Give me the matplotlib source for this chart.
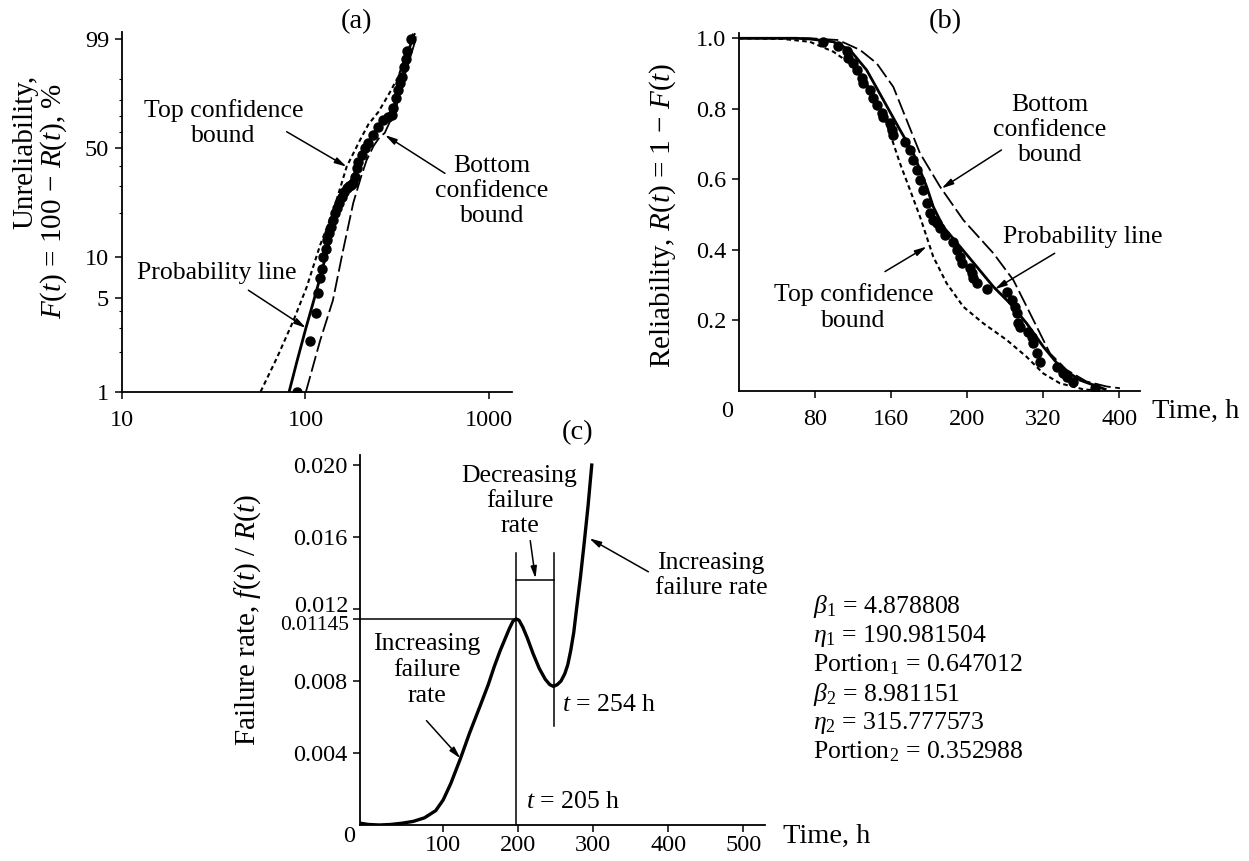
import numpy as np
import matplotlib
matplotlib.use('Agg')
import matplotlib.pyplot as plt

plt.rcParams['font.family'] = ['Liberation Serif', 'DejaVu Serif']
plt.rcParams['mathtext.fontset'] = 'custom'
plt.rcParams['mathtext.rm'] = 'Liberation Serif'
plt.rcParams['mathtext.it'] = 'Liberation Serif:italic'
plt.rcParams['mathtext.bf'] = 'Liberation Serif:bold'
plt.rcParams['axes.linewidth'] = 1.3

# ---- (a) unreliability on weibull paper ----
a_t = [90, 106, 114, 117.5, 120, 123.5, 125, 129, 131.4, 134.3, 137.1, 140.6, 144.7, 148.9,
       152.8, 157.4, 162, 167.5, 172, 177, 182, 185.9, 190, 193.8, 202.2, 210.9, 219.9, 234,
       249, 265, 282, 294, 300.6, 310.8, 320, 326.6, 333.8, 343.6, 351, 358, 375]
a_F = [1.0, 2.4, 3.9, 5.4, 7.0, 8.2, 9.9, 11.3, 13.1, 14.6, 16.2, 18.0, 20.0, 21.6,
       23.6, 25.8, 27.8, 29.2, 30.0, 30.8, 31.4, 34.4, 38.7, 42.2, 46.0, 49.9, 53.0, 58.2,
       63.5, 67.8, 69.9, 70.9, 75.0, 80.8, 85.2, 88.3, 91.0, 94.3, 96.3, 97.6, 99.0]
prob_a_t = [81.5, 90, 100.6, 110, 120, 130, 145, 160, 175, 190, 205, 220, 240, 260, 280, 300, 320, 340, 360, 385]
prob_a_F = [1.0, 1.7, 3.0, 4.6, 7.0, 10.5, 17.5, 25.5, 31.5, 38.5, 46.5, 53.5, 61.0, 66.5, 70.0, 74.5, 84.5, 92.5, 97.0, 99.3]
top_a_t = [57, 70, 86, 101.5, 120, 142, 167.5, 198, 220, 250, 288, 320, 348, 372, 395]
top_a_F = [1.0, 1.8, 3.4, 6.0, 12.0, 21.0, 39.5, 55.0, 65.0, 73.0, 84.0, 91.0, 96.5, 98.8, 99.4]
bot_a_t = [100.6, 120, 141, 160, 182, 200, 215, 235, 254, 270, 290, 313, 330, 355, 375, 402]
bot_a_F = [1.0, 2.4, 4.8, 11.0, 23.5, 34.0, 43.0, 51.5, 57.0, 59.5, 67.5, 76.0, 87.0, 93.5, 97.0, 99.2]
a_yticks = [1, 5, 10, 50, 99]

# ---- (b) reliability ----
b_t = [88.7, 104.4, 113.2, 115, 120.2, 123.7, 129, 130.7, 137.8, 141.3, 144.8, 150, 151.8, 158.8,
       160.5, 162.3, 174.6, 179.8, 183.3, 186.8, 190.3, 193.8, 197.3, 200.8, 204.3, 207.8, 211.4,
       216.6, 225.4, 228.9, 232.4, 234.2, 243, 244.7, 246.5, 250, 260.5, 281.5, 286.7, 290.2, 292,
       293.7, 295.5, 304.2, 307.8, 309.5, 313, 316.5, 334, 341, 344.5, 351.6, 374.4]
b_R = [0.990, 0.978, 0.965, 0.943, 0.931, 0.910, 0.886, 0.872, 0.853, 0.830, 0.811, 0.787, 0.778, 0.759,
       0.740, 0.726, 0.707, 0.683, 0.655, 0.626, 0.598, 0.570, 0.532, 0.503, 0.484, 0.475, 0.461,
       0.442, 0.423, 0.399, 0.380, 0.361, 0.347, 0.333, 0.319, 0.305, 0.290, 0.281, 0.257, 0.238, 0.220,
       0.191, 0.182, 0.167, 0.153, 0.134, 0.106, 0.082, 0.068, 0.049, 0.040, 0.026, 0.007]
prob_b_t = [0, 60, 74.6, 99.2, 116.7, 134.2, 151.8, 169.3, 183.3, 197.3, 204.3, 214.8, 232.4, 250,
            267.5, 285, 302.5, 320, 337.5, 358.6, 385]
prob_b_R = [1.0, 1.0, 0.998, 0.990, 0.967, 0.910, 0.825, 0.740, 0.674, 0.579, 0.522, 0.465, 0.409, 0.352,
            0.295, 0.248, 0.191, 0.125, 0.068, 0.030, 0.004]
top_b_t = [0, 46.6, 74.6, 99.2, 116.7, 134.2, 148.2, 158.8, 169.3, 179.8, 190.3, 197.3, 204.3, 218.3,
           236, 257, 281.5, 302.5, 320, 337.5, 362, 376]
top_b_R = [1.0, 0.998, 0.990, 0.962, 0.929, 0.872, 0.806, 0.730, 0.645, 0.570, 0.494, 0.437, 0.380, 0.305,
           0.238, 0.191, 0.144, 0.096, 0.049, 0.021, 0.004, 0.0]
bot_b_t = [0, 74.6, 104.4, 127.3, 144.8, 162.3, 176.3, 190.3, 211.4, 236, 267.5, 288.5, 300.8, 313,
           327, 344.5, 365.5, 386.6, 400.6]
bot_b_R = [1.0, 1.0, 0.995, 0.967, 0.929, 0.862, 0.768, 0.674, 0.579, 0.484, 0.390, 0.314, 0.248, 0.182,
           0.106, 0.059, 0.026, 0.012, 0.007]
b_xticks = [80, 160, 240, 320, 400]
b_xlabels = ['80', '160', '200', '320', '400']
b_yticks = [0.2, 0.4, 0.6, 0.8, 1.0]

# ---- (c) failure rate ----
c_t = [-10.7, 0, 15, 30, 45, 60, 75, 90, 100, 110, 123, 135, 149, 160, 168, 176, 183, 188, 193, 197,
       201, 206, 212, 220, 228, 236, 242, 247, 252, 257, 262, 266, 270, 274, 278, 283, 288, 293, 298]
c_h = [0.0001, 0.00003, 0.0, 0.00003, 0.0001, 0.0002, 0.0004, 0.0008, 0.0014, 0.0023, 0.0037, 0.0051,
       0.0066, 0.0078, 0.0088, 0.0097, 0.0104, 0.0109, 0.01133, 0.01145,
       0.01138, 0.0110, 0.0104, 0.0095, 0.0087, 0.0081, 0.0078, 0.0077, 0.0078, 0.0080, 0.0084, 0.0089,
       0.0097, 0.0107, 0.0121, 0.0138, 0.0157, 0.0177, 0.0200]
c_yticks = [0.004, 0.008, 0.016, 0.020]
c_ylabels = ['0.004', '0.008', '0.016', '0.020']
c_xticks = [100, 200, 300, 400, 500]
t_peak, h_peak = 197, 0.01145
t_min = 247
params = [r'$\beta_1$ = 4.878808', r'$\eta_1$ = 190.981504', r'Portion$_1$ = 0.647012',
          r'$\beta_2$ = 8.981151', r'$\eta_2$ = 315.777573', r'Portion$_2$ = 0.352988']

W, H = 1249, 861
fig = plt.figure(figsize=(W / 100, H / 100), dpi=100)

def box(l, r, t, b):
    return [l / W, 1 - b / H, (r - l) / W, (b - t) / H]

FS_TICK = 17.5
FS_TXT = 18.5
FS_LAB = 21
FS_TIME = 20.5
arrow = dict(arrowstyle='-|>,head_length=0.7,head_width=0.18', color='k', lw=1.1, shrinkA=0, shrinkB=0)

def style(ax):
    for s in ['top', 'right']:
        ax.spines[s].set_visible(False)
    ax.tick_params(direction='out', length=5, width=1.1, labelsize=FS_TICK, pad=4)

# panel a
def fwd(F):
    F = np.clip(np.asarray(F, dtype=float), 1e-6, 99.99999)
    return np.log(-np.log(1 - F / 100))

def inv(w):
    return 100 * (1 - np.exp(-np.exp(w)))

axa = fig.add_axes(box(121.7, 511.7, 31.7, 391.7))
axa.set_xscale('log')
axa.set_yscale('function', functions=(fwd, inv))
axa.plot(top_a_t, top_a_F, color='k', lw=1.5, ls=(0, (2.2, 1.6)))
axa.plot(bot_a_t, bot_a_F, color='k', lw=1.3, ls=(0, (9, 2.5)))
axa.plot(prob_a_t, prob_a_F, color='k', lw=2.0)
axa.plot(a_t, a_F, 'o', color='k', ms=6.5)
axa.set_xlim(10, 1325)
axa.set_ylim(1, 99.48)
axa.set_xticks([10, 100, 1000])
axa.set_xticklabels(['10', '100', '1000'])
axa.xaxis.set_minor_locator(matplotlib.ticker.NullLocator())
axa.set_yticks(a_yticks)
axa.set_yticklabels([str(v) for v in a_yticks])
axa.set_yticks([2, 3, 4, 20, 30, 40, 60, 70, 80, 90], minor=True)
axa.yaxis.set_minor_formatter(matplotlib.ticker.NullFormatter())
style(axa)
axa.tick_params(which='minor', length=2.5, width=0.8)
axa.tick_params(axis='x', pad=8)
axa.annotate('', xy=(167.5, 39.5), xytext=(79, 60.3), arrowprops=arrow)
axa.text(35.7, 65.7, 'Top confidence\nbound', ha='center', va='center', fontsize=FS_TXT)
axa.annotate('', xy=(270.7, 58.2), xytext=(574, 36.1), arrowprops=arrow)
axa.text(1034, 28.1, 'Bottom\nconfidence\nbound', ha='center', va='center', fontsize=FS_TXT)
axa.annotate('', xy=(100.6, 3.0), xytext=(48.9, 5.7), arrowprops=arrow)
axa.text(32.9, 7.6, 'Probability line', ha='center', va='center', fontsize=FS_TXT)
fig.text(357 / W, 1 - 22 / H, '(a)', ha='center', va='center', fontsize=FS_TIME)
fig.text(25 / W, 1 - 152 / H, 'Unreliability,', rotation=90, ha='center', va='center', fontsize=FS_LAB)
fig.text(54 / W, 1 - 201 / H, r'$F$($t$) = 100 − $R$($t$), %', rotation=90, ha='center', va='center',
         fontsize=FS_LAB)

# panel b
axb = fig.add_axes(box(739, 1140, 33, 390.7))
axb.plot(top_b_t, top_b_R, color='k', lw=1.5, ls=(0, (2.2, 1.6)))
axb.plot(bot_b_t, bot_b_R, color='k', lw=1.3, ls=(0, (9, 2.5)))
axb.plot(prob_b_t, prob_b_R, color='k', lw=2.0)
axb.plot(b_t, b_R, 'o', color='k', ms=6.5)
axb.set_xlim(0, 421.7)
axb.set_ylim(0, 1.015)
axb.set_xticks(b_xticks)
axb.set_xticklabels(b_xlabels)
axb.set_yticks(b_yticks)
axb.set_yticklabels(['%.1f' % v for v in b_yticks])
style(axb)
axb.tick_params(axis='x', pad=8)
axb.text(327, 0.740, 'Bottom\nconfidence\nbound', ha='center', va='center', fontsize=FS_TXT)
axb.annotate('', xy=(213, 0.574), xytext=(276, 0.683), arrowprops=arrow)
axb.text(278, 0.437, 'Probability line', ha='left', va='center', fontsize=FS_TXT)
axb.annotate('', xy=(269, 0.288), xytext=(332, 0.39), arrowprops=arrow)
axb.text(120.2, 0.236, 'Top confidence\nbound', ha='center', va='center', fontsize=FS_TXT)
axb.annotate('', xy=(197.4, 0.409), xytext=(153.5, 0.338), arrowprops=arrow)
fig.text(945 / W, 1 - 22 / H, '(b)', ha='center', va='center', fontsize=FS_TIME)
fig.text(727 / W, 1 - 411 / H, '0', ha='center', va='center', fontsize=FS_TICK)
fig.text(1152 / W, 1 - 411 / H, 'Time, h', ha='left', va='center', fontsize=FS_TIME)
fig.text(663 / W, 1 - 215 / H, r'Reliability, $R$($t$) = 1 − $F$($t$)', rotation=90, ha='center',
         va='center', fontsize=FS_LAB)

# panel c
axc = fig.add_axes(box(360, 765, 455, 825))
axc.plot([-10.7, t_peak], [h_peak, h_peak], color='k', lw=1.1)
axc.plot([t_peak, t_peak], [0, 0.0151], color='k', lw=1.1)
axc.plot([t_min, t_min], [0.0055, 0.0151], color='k', lw=1.1)
axc.plot([t_peak, t_min], [0.0136, 0.0136], color='k', lw=1.1)
axc.plot(c_t, c_h, color='k', lw=2.4)
axc.set_xlim(-11, 529)
axc.set_ylim(0, 0.02056)
axc.set_xticks(c_xticks)
axc.set_yticks(c_yticks + [0.012, h_peak])
axc.set_yticklabels(c_ylabels + ['', ''])
style(axc)
axc.tick_params(axis='x', pad=2.5)
# the 0.012 and 0.01145 labels sit close together, nudge them apart a bit
axc.annotate('0.012', xy=(0, 0.012), xycoords=('axes fraction', 'data'), xytext=(-8.5, 2),
             textcoords='offset points', ha='right', va='center', fontsize=FS_TICK)
axc.annotate('0.01145', xy=(0, h_peak), xycoords=('axes fraction', 'data'), xytext=(-8, -4.5),
             textcoords='offset points', ha='right', va='center', fontsize=15.5)
axc.text(201.7, 0.0180, 'Decreasing\nfailure\nrate', ha='center', va='center', fontsize=FS_TXT,
         linespacing=1.2)
axc.annotate('', xy=(223, 0.0137), xytext=(216, 0.0158), arrowprops=arrow)
axc.text(457, 0.01385, 'Increasing\nfailure rate', ha='center', va='center', fontsize=FS_TXT)
axc.text(77.6, 0.0086, 'Increasing\nfailure\nrate', ha='center', va='center', fontsize=FS_TXT,
         linespacing=1.25)
axc.annotate('', xy=(294.7, 0.01593), xytext=(373.5, 0.01407), arrowprops=arrow)
axc.annotate('', xy=(123, 0.0037), xytext=(77.6, 0.0058), arrowprops=arrow)
axc.text(259, 0.00667, r'$t$ = 254 h', ha='left', va='center', fontsize=FS_TXT)
axc.text(211, 0.0013, r'$t$ = 205 h', ha='left', va='center', fontsize=FS_TXT)
fig.text(578 / W, 1 - 433 / H, '(c)', ha='center', va='center', fontsize=FS_TIME)
fig.text(349 / W, 1 - 836 / H, '0', ha='center', va='center', fontsize=FS_TICK)
fig.text(783 / W, 1 - 836 / H, 'Time, h', ha='left', va='center', fontsize=FS_TIME)
fig.text(248 / W, 1 - 620 / H, r'Failure rate, $f$($t$) / $R$($t$)', rotation=90, ha='center',
         va='center', fontsize=FS_LAB)

for i, p in enumerate(params):
    fig.text(813 / W, 1 - (607 + 29 * i) / H, p, ha='left', va='center', fontsize=FS_TXT)

fig.savefig('out.png', dpi=100)
